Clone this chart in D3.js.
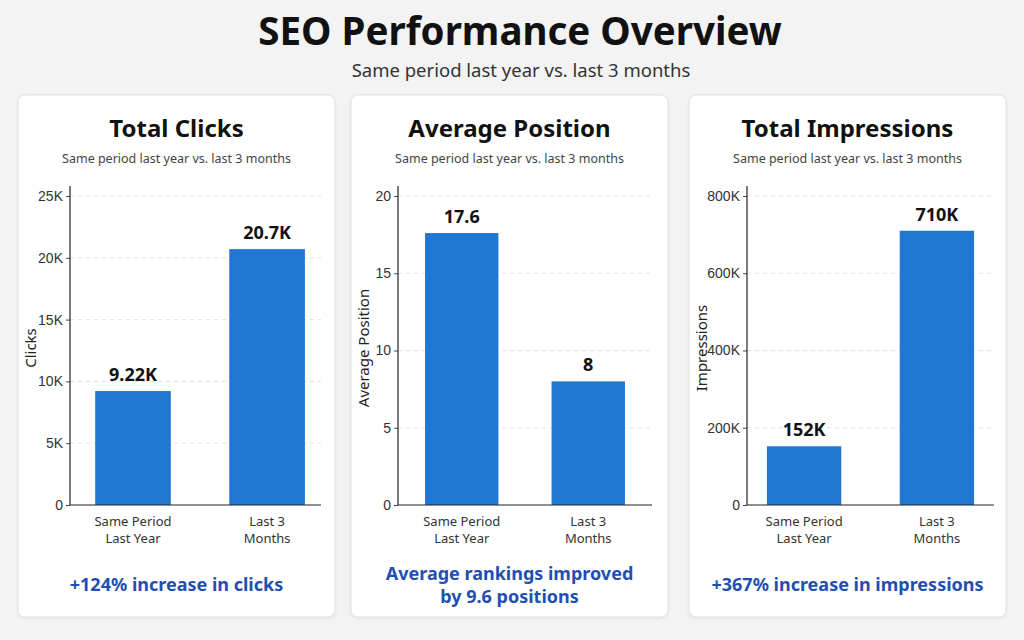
<!doctype html>
<html>
<head>
<meta charset="utf-8">
<title>SEO Performance Overview</title>
<script src="https://cdn.jsdelivr.net/npm/d3@7"></script>
<style>
  body { margin: 0; background: #f3f3f3; }
  svg { display: block; font-family: "Noto Sans", "Open Sans", sans-serif; }
</style>
</head>
<body>
<script>
// data
var categoryLines = [["Same Period", "Last Year"], ["Last 3", "Months"]];
var clicksValues = [9220, 20700];
var clicksLabels = ["9.22K", "20.7K"];
var clicksTicks = [0, 5000, 10000, 15000, 20000, 25000];
var positionValues = [17.6, 8];
var positionLabels = ["17.6", "8"];
var positionTicks = [0, 5, 10, 15, 20];
var impressionValues = [152000, 710000];
var impressionLabels = ["152K", "710K"];
var impressionTicks = [0, 200000, 400000, 600000, 800000];

var kFmt = function(d) { return d === 0 ? "0" : (d / 1000) + "K"; };

var panels = [
  { title: "Total Clicks", axisTitle: "Clicks", values: clicksValues, labels: clicksLabels,
    ticks: clicksTicks, max: 25000, fmt: kFmt, footer: ["+124% increase in clicks"],
    x: 18, left: 52, right: 14, padIn: 0.436, padOut: 0.154, align: 0.61 },
  { title: "Average Position", axisTitle: "Average Position", values: positionValues, labels: positionLabels,
    ticks: positionTicks, max: 20, fmt: String, footer: ["Average rankings improved", "by 9.6 positions"],
    x: 351, left: 47, right: 16, padIn: 0.42, padOut: 0.214, align: 0.5 },
  { title: "Total Impressions", axisTitle: "Impressions", values: impressionValues, labels: impressionLabels,
    ticks: impressionTicks, max: 800000, fmt: kFmt, footer: ["+367% increase in impressions"],
    x: 689, left: 58, right: 12, padIn: 0.44, padOut: 0.15, align: 0.5 }
];

var W = 1024, H = 640;
var cardW = 317, cardTop = 95, cardH = 522;
var yBottom = 505, yTop = 196;

var svg = d3.select("body").append("svg").attr("width", W).attr("height", H);

var defs = svg.append("defs");
var f = defs.append("filter").attr("id", "shadow").attr("x", "-5%").attr("y", "-5%").attr("width", "110%").attr("height", "110%");
f.append("feDropShadow").attr("dx", 0).attr("dy", 1).attr("stdDeviation", 1.5).attr("flood-color", "#000").attr("flood-opacity", 0.08);

svg.append("text")
  .attr("x", 520).attr("y", 45)
  .attr("text-anchor", "middle")
  .attr("font-size", 38.5).attr("font-weight", 700).attr("fill", "#111")
  .text("SEO Performance Overview");

svg.append("text")
  .attr("x", 521).attr("y", 77)
  .attr("text-anchor", "middle")
  .attr("font-size", 18.5).attr("fill", "#333")
  .text("Same period last year vs. last 3 months");

panels.forEach(function(p) {
  var g = svg.append("g").attr("transform", "translate(" + p.x + "," + cardTop + ")");
  var cx = cardW / 2;

  g.append("rect")
    .attr("width", cardW).attr("height", cardH)
    .attr("rx", 7)
    .attr("fill", "#fff").attr("stroke", "#e2e2e2")
    .attr("filter", "url(#shadow)");

  g.append("text")
    .attr("x", cx).attr("y", 42)
    .attr("text-anchor", "middle")
    .attr("font-size", 24).attr("font-weight", 700).attr("fill", "#111")
    .text(p.title);

  g.append("text")
    .attr("x", cx).attr("y", 68)
    .attr("text-anchor", "middle")
    .attr("font-size", 12.5).attr("fill", "#444")
    .text("Same period last year vs. last 3 months");

  var x0 = p.left, x1 = cardW - p.right;
  var y = d3.scaleLinear().domain([0, p.max]).range([yBottom - cardTop, yTop - cardTop]);
  var x = d3.scaleBand().domain(d3.range(p.values.length)).range([x0, x1])
    .paddingInner(p.padIn).paddingOuter(p.padOut).align(p.align);

  // grid
  g.append("g").selectAll("line")
    .data(p.ticks.filter(function(d) { return d > 0; }))
    .join("line")
    .attr("x1", x0).attr("x2", x1)
    .attr("y1", function(d) { return y(d); }).attr("y2", function(d) { return y(d); })
    .attr("stroke", "#e2e2e2").attr("stroke-dasharray", "4,4");

  var yAxis = g.append("g")
    .attr("transform", "translate(" + x0 + ",0)")
    .call(d3.axisLeft(y).tickValues(p.ticks).tickFormat(p.fmt).tickSize(4).tickSizeOuter(0));
  yAxis.select(".domain").remove();
  yAxis.selectAll("text").attr("font-size", 14).attr("fill", "#333").attr("font-family", "inherit");
  yAxis.selectAll(".tick line").attr("stroke", "#444");

  g.append("line")
    .attr("x1", x0).attr("x2", x0)
    .attr("y1", y(0)).attr("y2", y(p.max) - 10)
    .attr("stroke", "#222").attr("stroke-width", 1.2);

  g.selectAll("rect.bar")
    .data(p.values)
    .join("rect")
    .attr("class", "bar")
    .attr("x", function(d, i) { return x(i); })
    .attr("width", x.bandwidth())
    .attr("y", function(d) { return y(d); })
    .attr("height", function(d) { return y(0) - y(d); })
    .attr("fill", "#2176d2");

  g.append("line")
    .attr("x1", x0).attr("x2", x1)
    .attr("y1", y(0)).attr("y2", y(0))
    .attr("stroke", "#222").attr("stroke-width", 1.2);

  g.selectAll("text.val")
    .data(p.values)
    .join("text")
    .attr("class", "val")
    .attr("x", function(d, i) { return x(i) + x.bandwidth() / 2; })
    .attr("y", function(d) { return y(d) - 10; })
    .attr("text-anchor", "middle")
    .attr("font-size", 18).attr("font-weight", 700).attr("fill", "#111")
    .text(function(d, i) { return p.labels[i]; });

  categoryLines.forEach(function(lines, i) {
    lines.forEach(function(t, j) {
      g.append("text")
        .attr("x", x(i) + x.bandwidth() / 2)
        .attr("y", y(0) + 21 + j * 17)
        .attr("text-anchor", "middle")
        .attr("font-size", 13).attr("fill", "#333")
        .text(t);
    });
  });

  g.append("text")
    .attr("transform", "translate(18," + (348 - cardTop) + ") rotate(-90)")
    .attr("text-anchor", "middle")
    .attr("font-size", 15).attr("fill", "#222")
    .text(p.axisTitle);

  var fy = p.footer.length > 1 ? 485 : 496;
  p.footer.forEach(function(t, j) {
    g.append("text")
      .attr("x", cx).attr("y", fy + j * 23)
      .attr("text-anchor", "middle")
      .attr("font-size", 18).attr("font-weight", 700).attr("fill", "#1f4fb3")
      .text(t);
  });
});
</script>
</body>
</html>
